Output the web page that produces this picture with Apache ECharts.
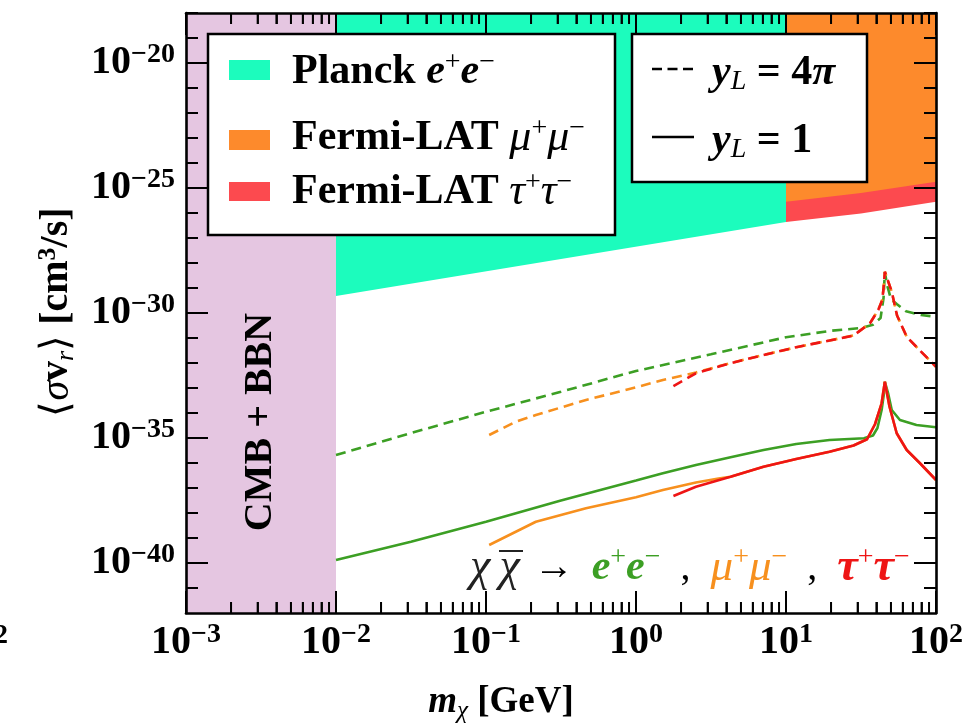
<!DOCTYPE html>
<html><head><meta charset="utf-8">
<script src="https://cdn.jsdelivr.net/npm/echarts@6/dist/echarts.min.js"></script>
<style>html,body{margin:0;padding:0;background:#fff}#c{width:977px;height:726px;background:#fff}</style>
</head><body><div id="c"></div>
<script>
const FONT = "'Liberation Serif','Times New Roman',serif";

// axis ranges / tick values
const xRange = [1e-3, 1e2];
const yRange = [1e-42, 1e-18];
const xDecades = [1e-3, 1e-2, 1e-1, 1, 10, 100];
const xMinorMantissas = [2, 3, 4, 5, 6, 7, 8, 9];
const yDecadeExponents = [-41, -40, -39, -38, -37, -36, -35, -34, -33, -32, -31, -30, -29, -28, -27, -26, -25, -24, -23, -22, -21, -20, -19];

// excluded regions: [m_chi (GeV), <sigma v> (cm^3/s)] lower boundaries
const cmbBbnBand   = [[1e-3, 1e-42], [1e-2, 1e-42]];
const planckBound  = [[1e-2, 4.79e-30], [10, 4.37e-27]];
const fermiTauBound = [[10, 4.37e-27], [31.6, 9.55e-27], [100, 2.82e-26]];
const fermiMuBound  = [[10, 2.82e-26], [31.6, 6.31e-26], [100, 1.78e-25]];

// y_L = 4pi (dashed)
const eeDashed = [[0.01,2.09e-36],[0.0316,1.58e-35],[0.1,1.12e-34],[0.316,7.08e-34],[1,4.79e-33],[3.16,2.24e-32],[10,1.07e-31],[20,1.95e-31],[31.6,2.51e-31],[38.0,3.39e-31],[42.7,6.31e-31],[44.7,3.98e-30],[45.6,4.37e-29],[47.3,1.26e-29],[50.1,3.55e-30],[55.0,2.24e-30],[63.1,1.17e-30],[79.4,8.32e-31],[100,7.08e-31]];
const mumuDashed = [[0.105,1.32e-35],[0.158,4.47e-35],[0.215,8.32e-35],[0.464,3.31e-34],[1,1.07e-33],[1.51,2.09e-33],[2.51,4.17e-33],[4.27,1.0e-32],[7.08,2.09e-32],[11.7,4.27e-32],[19.5,7.94e-32],[28.2,1.26e-31],[36.3,3.89e-31],[41.2,1.32e-30],[43.7,3.16e-30],[44.6,8.32e-30],[45.6,4.47e-29],[50.7,7.08e-30],[55.0,7.94e-31],[63.8,1.12e-31],[78.2,3.16e-32],[100,7.08e-33]];
const tautauDashed = [[1.776,1.20e-33],[2.51,3.89e-33],[4.27,9.77e-33],[7.08,2.09e-32],[11.7,4.27e-32],[19.5,7.94e-32],[28.2,1.26e-31],[36.3,3.89e-31],[41.2,1.32e-30],[43.7,3.16e-30],[44.6,8.32e-30],[45.6,4.47e-29],[50.7,7.08e-30],[55.0,7.94e-31],[63.8,1.12e-31],[78.2,3.16e-32],[100,7.08e-33]];

// y_L = 1 (solid)
const eeSolid = [[0.01,1.32e-40],[0.0316,7.08e-40],[0.1,4.47e-39],[0.316,3.16e-38],[1,2.0e-37],[1.51,3.89e-37],[2.51,8.32e-37],[4.27,1.70e-36],[7.08,3.31e-36],[11.7,5.75e-36],[19.5,8.32e-36],[33.1,9.77e-36],[38.0,1.26e-35],[40.7,2.51e-35],[43.4,1.32e-34],[45.0,6.31e-34],[45.6,1.78e-33],[47.9,6.31e-34],[50.7,1.32e-34],[57.5,5.25e-35],[74.1,3.31e-35],[100,2.69e-35]];
const mumuSolid = [[0.105,5.25e-40],[0.158,1.78e-39],[0.215,4.47e-39],[0.464,1.55e-38],[1,4.27e-38],[1.51,8.32e-38],[2.51,1.66e-37],[3.55,2.40e-37],[4.27,2.82e-37],[7.08,7.08e-37],[11.7,1.45e-36],[19.5,2.82e-36],[28.2,5.01e-36],[34.7,8.91e-36],[39.2,3.55e-35],[43.4,2.45e-34],[45.6,1.78e-33],[49.0,1.78e-34],[54.7,1.55e-35],[63.8,3.31e-36],[78.2,9.77e-37],[100,2.09e-37]];
const tautauSolid = [[1.776,4.79e-38],[2.51,1.12e-37],[4.27,2.82e-37],[7.08,7.08e-37],[11.7,1.45e-36],[19.5,2.82e-36],[28.2,5.01e-36],[34.7,8.91e-36],[39.2,3.55e-35],[43.4,2.45e-34],[45.6,1.78e-33],[49.0,1.78e-34],[54.7,1.55e-35],[63.8,3.31e-36],[78.2,9.77e-37],[100,2.09e-37]];

const GREEN = '#3c9f24', ORANGE = '#f7901e', RED = '#ee1515';
const C_CMB = '#e5c6e1', C_PLANCK = '#1cfcbd', C_MU = '#fd8a2c', C_TAU = '#fc4a4f';

function expLabel(v) {
  const e = Math.round(Math.log10(v));
  return '{b|10}{e|' + (e < 0 ? '\u2212' : '') + Math.abs(e) + '}';
}
function labelRich() {
  return {
    b: {fontFamily: FONT, fontWeight: 'bold', fontSize: 40, lineHeight: 44, color: '#000'},
    e: {fontFamily: FONT, fontWeight: 'bold', fontSize: 28, lineHeight: 20, verticalAlign: 'top', color: '#000'}
  };
}

function xAx(pos, showLabel) {
  return {
    type: 'log', min: xRange[0], max: xRange[1], interval: 1, position: pos,
    axisLine: {show: true, onZero: false, lineStyle: {color: '#000', width: 2.6}},
    axisTick: {show: true, inside: true, length: 22, lineStyle: {color: '#000', width: 2}},
    minorTick: {show: true, splitNumber: 9, length: 11, lineStyle: {color: '#000', width: 1.8}},
    axisLabel: {show: showLabel, margin: 8, formatter: expLabel, rich: labelRich()},
    splitLine: {show: false}
  };
}
function yAx(pos, showLabel) {
  return {
    type: 'log', min: yRange[0], max: yRange[1], interval: 1, position: pos,
    axisLine: {show: true, onZero: false, lineStyle: {color: '#000', width: 2.6}},
    axisTick: {show: true, inside: true, length: 12, lineStyle: {color: '#000', width: 2}},
    axisLabel: {show: showLabel, margin: 11, rich: labelRich(),
      formatter: v => (Math.round(Math.log10(v)) % 5 === 0 ? expLabel(v) : '')},
    splitLine: {show: false}
  };
}

function band(data, color) {
  return {type: 'line', data, symbol: 'none', silent: true, z: -3,
    lineStyle: {width: 0}, areaStyle: {color, opacity: 1, origin: 'end'}};
}
function curve(data, color, dashed) {
  return {type: 'line', data, symbol: 'none', silent: true, z: -2,
    lineStyle: {color, width: 2.6, type: dashed ? [10, 6] : 'solid'}};
}

const T = (o) => Object.assign({fontFamily: FONT, fill: '#000', color: '#000'}, o);
const legRich = {
  n: T({fontSize: 42, fontWeight: 'bold', lineHeight: 46}),
  bi: T({fontSize: 42, fontWeight: 'bold', fontStyle: 'italic', lineHeight: 46}),
  it: T({fontSize: 44, fontStyle: 'italic', lineHeight: 46}),
  sup: T({fontSize: 28, lineHeight: 18, verticalAlign: 'top'}),
  sub: T({fontSize: 28, fontStyle: 'italic', lineHeight: 26, verticalAlign: 'bottom'})
};

const graphics = [
  // legend 1
  {type: 'rect', shape: {x: 208, y: 34, width: 407, height: 201}, style: {fill: '#fff', stroke: '#000', lineWidth: 2.5}, z: 100},
  {type: 'rect', shape: {x: 229, y: 60, width: 41, height: 20}, style: {fill: C_PLANCK}, z: 101},
  {type: 'rect', shape: {x: 229, y: 130, width: 41, height: 20}, style: {fill: C_MU}, z: 101},
  {type: 'rect', shape: {x: 229, y: 182, width: 41, height: 19}, style: {fill: C_TAU}, z: 101},
  {type: 'text', x: 292, y: 72, z: 101, style: {text: '{n|Planck }{bi|e}{sup|+}{bi|e}{sup|\u2212}', rich: legRich, verticalAlign: 'middle', align: 'left'}},
  {type: 'text', x: 292, y: 138, z: 101, style: {text: '{n|Fermi-LAT }{it|\u03bc}{sup|+}{it|\u03bc}{sup|\u2212}', rich: legRich, verticalAlign: 'middle', align: 'left'}},
  {type: 'text', x: 292, y: 192, z: 101, style: {text: '{n|Fermi-LAT }{it|\u03c4}{sup|+}{it|\u03c4}{sup|\u2212}', rich: legRich, verticalAlign: 'middle', align: 'left'}},
  // legend 2
  {type: 'rect', shape: {x: 632, y: 34, width: 235, height: 148}, style: {fill: '#fff', stroke: '#000', lineWidth: 2.5}, z: 100},
  {type: 'line', shape: {x1: 652, y1: 69, x2: 694, y2: 69}, style: {stroke: '#000', lineWidth: 2.5, lineDash: [10, 5.5]}, z: 101},
  {type: 'line', shape: {x1: 652, y1: 137, x2: 694, y2: 137}, style: {stroke: '#000', lineWidth: 2.5}, z: 101},
  {type: 'text', x: 712, y: 73, z: 101, style: {text: '{bi|y}{sub|L}{n| = 4}{bi|\u03c0}', rich: legRich, verticalAlign: 'middle', align: 'left'}},
  {type: 'text', x: 712, y: 141, z: 101, style: {text: '{bi|y}{sub|L}{n| = 1}', rich: legRich, verticalAlign: 'middle', align: 'left'}},
  // CMB + BBN
  {type: 'text', x: 261, y: 422, rotation: Math.PI / 2, z: 50, style: {text: 'CMB + BBN', font: 'bold 40px ' + FONT, fill: '#000', align: 'center', verticalAlign: 'middle'}},
  // process annotation
  {type: 'text', x: 470, y: 568, z: 50, style: {
    text: '{it|\u03c7\u2009\u03c7}{a| \u2192 }{ge|e}{gs|+}{ge|e}{gs|\u2212}{k|  ,  }{oe|\u03bc}{os|+}{oe|\u03bc}{os|\u2212}{k|  ,  }{re|\u03c4}{rs|+}{re|\u03c4}{rs|\u2212}',
    align: 'left', verticalAlign: 'middle',
    rich: {
      it: T({fontSize: 46, fontStyle: 'italic', lineHeight: 48, fill: '#222'}),
      a: T({fontSize: 40, lineHeight: 48, padding: [0, 8, 0, 4]}),
      k: T({fontSize: 40, lineHeight: 48}),
      ge: T({fontSize: 42, fontStyle: 'italic', fontWeight: 'bold', lineHeight: 48, fill: GREEN, color: GREEN}),
      gs: T({fontSize: 28, lineHeight: 18, verticalAlign: 'top', fill: GREEN, color: GREEN}),
      oe: T({fontSize: 45, fontStyle: 'italic', lineHeight: 48, fill: ORANGE, color: ORANGE}),
      os: T({fontSize: 28, lineHeight: 18, verticalAlign: 'top', fill: ORANGE, color: ORANGE}),
      re: T({fontSize: 46, fontStyle: 'italic', fontWeight: 'bold', lineHeight: 48, fill: RED, color: RED}),
      rs: T({fontSize: 28, lineHeight: 18, verticalAlign: 'top', fill: RED, color: RED})
    }}},
  {type: 'line', shape: {x1: 499, y1: 551, x2: 523, y2: 551}, style: {stroke: '#222', lineWidth: 2}, z: 50},
  // y axis title
  {type: 'text', x: 57, y: 312, rotation: Math.PI / 2, z: 50, style: {
    text: '{a|\u27e8}{s|\u03c3}{v|v}{r|r}{a|\u27e9}{b| [cm}{p|3}{b|/s]}',
    align: 'center', verticalAlign: 'middle',
    rich: {
      a: T({fontSize: 40, lineHeight: 44}),
      s: T({fontSize: 40, fontStyle: 'italic', lineHeight: 44}),
      v: T({fontSize: 40, fontWeight: 'bold', lineHeight: 44}),
      r: T({fontSize: 26, fontStyle: 'italic', lineHeight: 28, verticalAlign: 'bottom'}),
      b: T({fontSize: 40, fontWeight: 'bold', lineHeight: 44}),
      p: T({fontSize: 26, fontWeight: 'bold', lineHeight: 18, verticalAlign: 'top'})
    }}},
  // x axis title
  {type: 'text', x: 501, y: 702, z: 50, style: {
    text: '{m|m}{c|\u03c7}{b| [GeV]}', align: 'center', verticalAlign: 'middle',
    rich: {
      m: T({fontSize: 37, fontWeight: 'bold', fontStyle: 'italic', lineHeight: 44}),
      c: T({fontSize: 25, fontStyle: 'italic', lineHeight: 24, verticalAlign: 'bottom'}),
      b: T({fontSize: 37, fontWeight: 'bold', lineHeight: 44})
    }}},
  // cropped exponent from neighbouring panel
  {type: 'text', x: -6, y: 636, z: 50, style: {text: '2', font: 'bold 28px ' + FONT, fill: '#000', verticalAlign: 'middle'}}
];

const GRID = {left: 186, right: 41, top: 13, bottom: 113};
const W = 977, H = 726;
const chart = echarts.init(document.getElementById('c'), null, {renderer: 'canvas'});
chart.setOption({
  animation: false,
  grid: Object.assign({containLabel: false, outerBoundsMode: 'none'}, GRID),
  xAxis: [xAx('bottom', true), xAx('top', false)],
  yAxis: [yAx('left', true), yAx('right', false)],
  series: [
    band(cmbBbnBand, C_CMB),
    band(planckBound, C_PLANCK),
    band(fermiTauBound, C_TAU),
    band(fermiMuBound, C_MU),
    curve(eeDashed, GREEN, true),
    curve(mumuDashed, ORANGE, true),
    curve(tautauDashed, RED, true),
    curve(eeSolid, GREEN, false),
    curve(mumuSolid, ORANGE, false),
    curve(tautauSolid, RED, false)
  ]
});

// inward ticks on all four sides, positioned through the axes' own log scales
const L = GRID.left, R = W - GRID.right, TOP = GRID.top, B = H - GRID.bottom;
function toPx(v, isX) {
  let r;
  try { r = chart.convertToPixel(isX ? {xAxisIndex: 0} : {yAxisIndex: 0}, v); } catch (e) { r = NaN; }
  if (Array.isArray(r)) r = isX ? r[0] : r[1];
  if (typeof r !== 'number' || !isFinite(r)) {
    const lo = Math.log10(isX ? xRange[0] : yRange[0]), hi = Math.log10(isX ? xRange[1] : yRange[1]);
    const f = (Math.log10(v) - lo) / (hi - lo);
    r = isX ? L + f * (R - L) : B - f * (B - TOP);
  }
  return r;
}
const tickEls = [];
function tick(x1, y1, x2, y2, w) {
  tickEls.push({type: 'line', z: 60, shape: {x1: x1, y1: y1, x2: x2, y2: y2}, style: {stroke: '#000', lineWidth: w, fill: null}});
}
xDecades.forEach((d, i) => {
  if (i > 0 && i < xDecades.length - 1) {
    const x = toPx(d, true);
    tick(x, B, x, B - 22, 2); tick(x, TOP, x, TOP + 22, 2);
  }
  if (i < xDecades.length - 1) {
    xMinorMantissas.forEach(m => {
      const x = toPx(m * d, true);
      tick(x, B, x, B - 11, 1.8); tick(x, TOP, x, TOP + 11, 1.8);
    });
  }
});
yDecadeExponents.forEach(e => {
  const y = toPx(Number('1e' + e), false);
  const len = e % 5 === 0 ? 22 : 12;
  tick(L, y, L + len, y, 2); tick(R, y, R - len, y, 2);
});

chart.setOption({graphic: {elements: graphics.concat(tickEls)}});
</script></body></html>
